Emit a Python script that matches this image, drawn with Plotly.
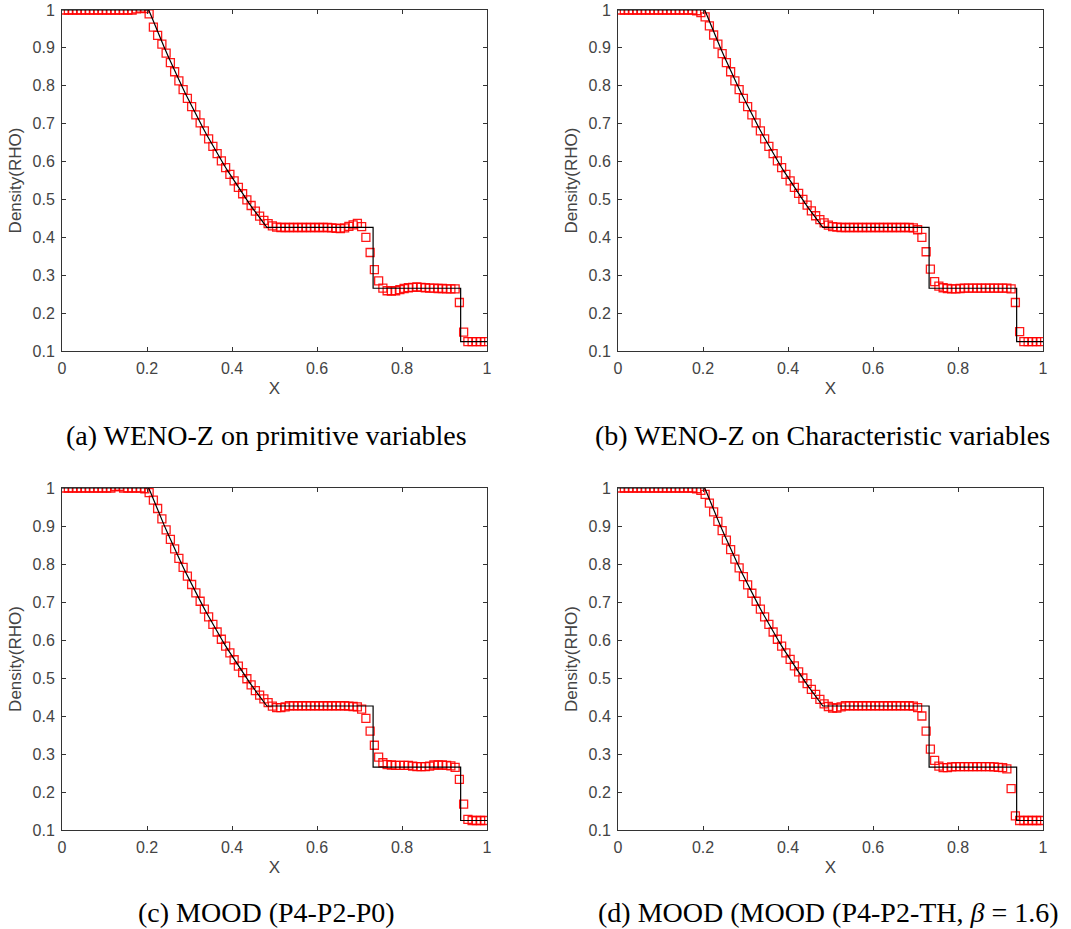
import plotly.graph_objects as go

# cell centres of the 100-cell grid
X = [0.005, 0.015, 0.025, 0.035, 0.045, 0.055, 0.065, 0.075, 0.085, 0.095,
     0.105, 0.115, 0.125, 0.135, 0.145, 0.155, 0.165, 0.175, 0.185, 0.195,
     0.205, 0.215, 0.225, 0.235, 0.245, 0.255, 0.265, 0.275, 0.285, 0.295,
     0.305, 0.315, 0.325, 0.335, 0.345, 0.355, 0.365, 0.375, 0.385, 0.395,
     0.405, 0.415, 0.425, 0.435, 0.445, 0.455, 0.465, 0.475, 0.485, 0.495,
     0.505, 0.515, 0.525, 0.535, 0.545, 0.555, 0.565, 0.575, 0.585, 0.595,
     0.605, 0.615, 0.625, 0.635, 0.645, 0.655, 0.665, 0.675, 0.685, 0.695,
     0.705, 0.715, 0.725, 0.735, 0.745, 0.755, 0.765, 0.775, 0.785, 0.795,
     0.805, 0.815, 0.825, 0.835, 0.845, 0.855, 0.865, 0.875, 0.885, 0.895,
     0.905, 0.915, 0.925, 0.935, 0.945, 0.955, 0.965, 0.975, 0.985, 0.995]

# (a) WENO-Z on primitive variables
RHO_A = [1.0, 1.0, 1.0, 1.0, 1.0, 1.0, 1.0, 1.0, 1.0, 1.0,
         1.0, 1.0, 1.0, 1.0, 1.0, 1.0, 1.0, 1.003, 1.005, 1.004,
         0.99, 0.955, 0.933, 0.91, 0.886, 0.861, 0.837, 0.813, 0.79, 0.767,
         0.745, 0.723, 0.702, 0.681, 0.66, 0.64, 0.621, 0.602, 0.584, 0.566,
         0.549, 0.532, 0.515, 0.499, 0.484, 0.469, 0.456, 0.445, 0.436, 0.43,
         0.427, 0.426, 0.426, 0.426, 0.426, 0.426, 0.426, 0.426, 0.426, 0.426,
         0.426, 0.426, 0.426, 0.425, 0.424, 0.423, 0.425, 0.429, 0.433, 0.437,
         0.428, 0.40, 0.36, 0.315, 0.285, 0.266, 0.259, 0.258, 0.259, 0.262,
         0.265, 0.267, 0.268, 0.269, 0.268, 0.267, 0.266, 0.266, 0.265, 0.265,
         0.264, 0.264, 0.264, 0.228, 0.15, 0.125, 0.125, 0.125, 0.125, 0.125]

# (b) WENO-Z on characteristic variables
RHO_B = [1.0, 1.0, 1.0, 1.0, 1.0, 1.0, 1.0, 1.0, 1.0, 1.0,
         1.0, 1.0, 1.0, 1.0, 1.0, 1.0, 1.0, 1.0, 0.998, 0.993,
         0.982, 0.958, 0.934, 0.91, 0.885, 0.861, 0.837, 0.813, 0.79, 0.767,
         0.745, 0.723, 0.702, 0.681, 0.66, 0.64, 0.621, 0.602, 0.584, 0.566,
         0.549, 0.532, 0.516, 0.5, 0.485, 0.47, 0.457, 0.447, 0.438, 0.432,
         0.428, 0.427, 0.426, 0.426, 0.426, 0.426, 0.426, 0.426, 0.426, 0.426,
         0.426, 0.426, 0.426, 0.426, 0.426, 0.426, 0.426, 0.426, 0.426, 0.425,
         0.42, 0.40, 0.362, 0.316, 0.283, 0.271, 0.267, 0.265, 0.264, 0.264,
         0.265, 0.266, 0.266, 0.266, 0.266, 0.266, 0.266, 0.266, 0.266, 0.266,
         0.266, 0.266, 0.264, 0.228, 0.151, 0.125, 0.125, 0.125, 0.125, 0.125]

# (c) MOOD (P4-P2-P0)
RHO_C = [1.0, 1.0, 1.0, 1.0, 1.0, 1.0, 1.0, 1.0, 1.0, 1.0,
         1.0, 1.0, 1.004, 1.004, 1.0, 1.0, 1.0, 1.0, 1.0, 0.998,
         0.988, 0.968, 0.946, 0.919, 0.89, 0.865, 0.84, 0.815, 0.791, 0.768,
         0.746, 0.724, 0.702, 0.681, 0.661, 0.641, 0.621, 0.602, 0.584, 0.566,
         0.548, 0.531, 0.514, 0.498, 0.482, 0.467, 0.455, 0.445, 0.435, 0.426,
         0.422, 0.422, 0.424, 0.427, 0.427, 0.427, 0.427, 0.427, 0.427, 0.427,
         0.427, 0.427, 0.427, 0.427, 0.427, 0.427, 0.427, 0.426, 0.425, 0.424,
         0.418, 0.394, 0.36, 0.323, 0.292, 0.277, 0.272, 0.271, 0.27, 0.27,
         0.27, 0.27, 0.268, 0.267, 0.267, 0.267, 0.268, 0.271, 0.271, 0.271,
         0.27, 0.269, 0.265, 0.233, 0.168, 0.128, 0.125, 0.125, 0.125, 0.125]

# (d) MOOD (P4-P2-TH, beta = 1.6)
RHO_D = [1.0, 1.0, 1.0, 1.0, 1.0, 1.0, 1.0, 1.0, 1.0, 1.0,
         1.0, 1.0, 1.0, 1.0, 1.0, 1.0, 1.0, 1.0, 0.998, 0.994,
         0.983, 0.96, 0.937, 0.912, 0.888, 0.863, 0.838, 0.813, 0.79, 0.767,
         0.745, 0.723, 0.702, 0.681, 0.661, 0.641, 0.621, 0.602, 0.584, 0.566,
         0.549, 0.532, 0.516, 0.5, 0.485, 0.47, 0.457, 0.444, 0.432, 0.425,
         0.421, 0.421, 0.424, 0.427, 0.427, 0.427, 0.427, 0.427, 0.427, 0.427,
         0.427, 0.427, 0.427, 0.427, 0.427, 0.427, 0.427, 0.427, 0.427, 0.426,
         0.422, 0.40, 0.36, 0.313, 0.283, 0.268, 0.264, 0.264, 0.266, 0.267,
         0.267, 0.267, 0.267, 0.267, 0.267, 0.267, 0.267, 0.267, 0.266, 0.265,
         0.264, 0.261, 0.209, 0.137, 0.125, 0.125, 0.125, 0.125, 0.125, 0.125]

# exact (reference) solution, black line
EXACT_X = [0.0, 0.204, 0.21, 0.22, 0.23, 0.24, 0.25, 0.26, 0.27, 0.28, 0.29,
           0.30, 0.31, 0.32, 0.33, 0.34, 0.35, 0.36, 0.37, 0.38, 0.39,
           0.40, 0.41, 0.42, 0.43, 0.44, 0.45, 0.46, 0.47, 0.48,
           0.482, 0.732, 0.732, 0.938, 0.938, 1.0]
EXACT_Y = [1.0, 1.0, 0.984, 0.956, 0.929, 0.903, 0.8775, 0.852, 0.828, 0.804, 0.7805,
           0.7576, 0.7354, 0.7136, 0.6924, 0.6716, 0.6513, 0.6316, 0.6124, 0.5936, 0.5752,
           0.5575, 0.5399, 0.523, 0.5064, 0.4903, 0.4746, 0.4592, 0.4443, 0.4298,
           0.4263, 0.4263, 0.2656, 0.2656, 0.125, 0.125]

CAPTIONS = ["(a) WENO-Z on primitive variables",
            "(b) WENO-Z on Characteristic variables",
            "(c) MOOD (P4-P2-P0)",
            "(d) MOOD (MOOD (P4-P2-TH, <i>β</i> = 1.6)"]

X_TICKS = [0, 0.2, 0.4, 0.6, 0.8, 1]
X_TICK_TEXT = ["0", "0.2", "0.4", "0.6", "0.8", "1"]
Y_TICKS = [0.1, 0.2, 0.3, 0.4, 0.5, 0.6, 0.7, 0.8, 0.9, 1]
Y_TICK_TEXT = ["0.1", "0.2", "0.3", "0.4", "0.5", "0.6", "0.7", "0.8", "0.9", "1"]

W, H = 1071, 929
# plot boxes in pixels: (left, right, top, bottom)
BOXES = [(62, 487, 10, 351), (618, 1043, 10, 351),
         (62, 487, 488, 830), (618, 1043, 488, 830)]
CAP_POS = [(266, 436), (822, 436), (266, 912), (828, 912)]

AX_COL = "#333333"
TICK_FONT = dict(family="Liberation Sans, Arial, sans-serif", size=16, color="#444444")
TITLE_FONT = dict(family="Liberation Sans, Arial, sans-serif", size=17, color="#444444")

fig = go.Figure()
series = [RHO_A, RHO_B, RHO_C, RHO_D]
for k, rho in enumerate(series):
    sx = "x" if k == 0 else f"x{k+1}"
    sy = "y" if k == 0 else f"y{k+1}"
    fig.add_trace(go.Scatter(x=X, y=rho, mode="markers", xaxis=sx, yaxis=sy,
                             marker=dict(symbol="square-open", size=8,
                                         color="rgba(255,0,0,0.9)",
                                         line=dict(width=1.3, color="rgba(255,0,0,0.9)")),
                             showlegend=False, hoverinfo="skip"))
    fig.add_trace(go.Scatter(x=EXACT_X, y=EXACT_Y, mode="lines", xaxis=sx, yaxis=sy,
                             line=dict(color="black", width=1.2),
                             showlegend=False, hoverinfo="skip"))

layout = dict(width=W, height=H, margin=dict(l=0, r=0, t=0, b=0),
              paper_bgcolor="white", plot_bgcolor="white", showlegend=False)
for k, (l, r, t, b) in enumerate(BOXES):
    xn = "xaxis" if k == 0 else f"xaxis{k+1}"
    yn = "yaxis" if k == 0 else f"yaxis{k+1}"
    xa = "x" if k == 0 else f"x{k+1}"
    ya = "y" if k == 0 else f"y{k+1}"
    layout[xn] = dict(domain=[l / W, r / W], anchor=ya, range=[0, 1],
                      tickvals=X_TICKS, ticktext=X_TICK_TEXT, ticks="inside",
                      ticklen=4, tickcolor=AX_COL, showline=True, linecolor=AX_COL,
                      linewidth=1, mirror="ticks", showgrid=False, zeroline=False,
                      tickfont=TICK_FONT, ticklabelstandoff=3,
                      title=dict(text="X", font=TITLE_FONT, standoff=5),
                      automargin=False)
    layout[yn] = dict(domain=[1 - b / H, 1 - t / H], anchor=xa, range=[0.1, 1],
                      tickvals=Y_TICKS, ticktext=Y_TICK_TEXT, ticks="inside",
                      ticklen=4, tickcolor=AX_COL, showline=True, linecolor=AX_COL,
                      linewidth=1, mirror="ticks", showgrid=False, zeroline=False,
                      tickfont=TICK_FONT, ticklabelstandoff=3,
                      title=dict(text="Density(RHO)", font=TITLE_FONT, standoff=6),
                      automargin=False)
fig.update_layout(**layout)

for (cx, cy), txt in zip(CAP_POS, CAPTIONS):
    fig.add_annotation(x=cx / W, y=1 - cy / H, xref="paper", yref="paper",
                       text=txt, showarrow=False, xanchor="center", yanchor="middle",
                       font=dict(family="Liberation Serif, Times New Roman, serif",
                                 size=28, color="black"))

fig.write_html("out.html")
